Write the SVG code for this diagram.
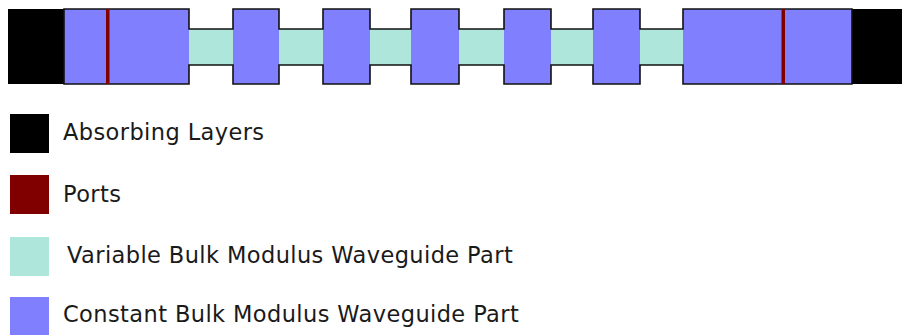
<svg xmlns="http://www.w3.org/2000/svg" width="902" height="335" viewBox="0 0 902 335">
<style>
.abs{fill:#000000}
.port{fill:#800000}
.var{fill:#afe6dc}
.con{fill:#8080ff}
.outline{fill:none;stroke:#111111;stroke-width:1.6;stroke-linejoin:miter}
.lbl{font-family:"DejaVu Sans",Verdana,sans-serif;font-size:22.5px;letter-spacing:0.4px;fill:#1a1a1a}
</style>
<rect width="902" height="335" fill="#ffffff"/>
<g id="waveguide">
  <rect id="abs-left" class="abs" x="8" y="9" width="56" height="75"/>
  <rect id="abs-right" class="abs" x="852" y="9" width="50" height="75"/>
  <rect class="var" x="189" y="29" width="474" height="36"/>
  <rect class="var" x="640" y="29" width="43" height="36"/>
  <rect class="con" x="64" y="9" width="125" height="75"/>
  <rect class="con" x="233" y="9" width="46" height="75"/>
  <rect class="con" x="323" y="9" width="47" height="75"/>
  <rect class="con" x="411" y="9" width="48" height="75"/>
  <rect class="con" x="504" y="9" width="47" height="75"/>
  <rect class="con" x="593" y="9" width="47" height="75"/>
  <rect class="con" x="683" y="9" width="169" height="75"/>
  <path class="outline" d="M64,9 H189 V29 H233 V9 H279 V29 H323 V9 H370 V29 H411 V9 H459 V29 H504 V9 H551 V29 H593 V9 H640 V29 H683 V9 H852 V84 H683 V65 H640 V84 H593 V65 H551 V84 H504 V65 H459 V84 H411 V65 H370 V84 H323 V65 H279 V84 H233 V65 H189 V84 H64 Z"/>
  <rect id="port-left" class="port" x="106" y="9" width="3.5" height="75"/>
  <rect id="port-right" class="port" x="781.5" y="9" width="3.5" height="75"/>
</g>
<g id="legend-absorbing">
  <rect class="abs" x="10" y="114" width="39" height="39"/>
  <text class="lbl" x="63" y="140">Absorbing Layers</text>
</g>
<g id="legend-ports">
  <rect class="port" x="10" y="175" width="39" height="39"/>
  <text class="lbl" x="63" y="202">Ports</text>
</g>
<g id="legend-variable">
  <rect class="var" x="10" y="237" width="39" height="39"/>
  <text class="lbl" x="67" y="263">Variable Bulk Modulus Waveguide Part</text>
</g>
<g id="legend-constant">
  <rect class="con" x="10" y="297" width="39" height="39"/>
  <text class="lbl" x="63" y="322">Constant Bulk Modulus Waveguide Part</text>
</g>
</svg>
